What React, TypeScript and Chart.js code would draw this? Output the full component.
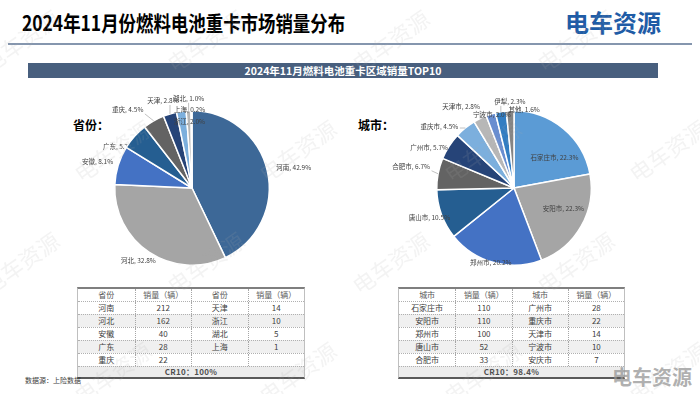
import React, { useEffect, useRef } from "react";
import { Chart, registerables } from "chart.js";

Chart.register(...registerables);

// ---------- data ----------
const provinceLabels = ["河南", "河北", "安徽", "广东", "重庆", "天津", "浙江", "湖北", "上海"];
const provinceShares = [42.9, 32.8, 8.1, 5.7, 4.5, 2.8, 2.0, 1.0, 0.2];

const cityLabels = ["石家庄市", "安阳市", "郑州市", "唐山市", "合肥市", "广州市", "重庆市", "天津市", "宁波市", "伊犁", "其他"];
const cityShares = [22.3, 22.3, 20.2, 10.5, 6.7, 5.7, 4.5, 2.8, 2.0, 2.3, 1.6];

const provinceTableNames = ["河南", "河北", "安徽", "广东", "重庆", "天津", "浙江", "湖北", "上海"];
const provinceTableSales = [212, 162, 40, 28, 22, 14, 10, 5, 1];
const provinceCR10 = "CR10：100%";

const cityTableNames = ["石家庄市", "安阳市", "郑州市", "唐山市", "合肥市", "广州市", "重庆市", "天津市", "宁波市", "安庆市"];
const cityTableSales = [110, 110, 100, 52, 33, 28, 22, 14, 10, 7];
const cityCR10 = "CR10：98.4%";

const title = "2024年11月份燃料电池重卡市场销量分布";
const bannerText = "2024年11月燃料电池重卡区域销量TOP10";
const sourceText = "数据源：上险数据";
const brand = "电车资源";

// ---------- styles ----------
const FONT = '"Noto Sans CJK SC", "Noto Sans", sans-serif';
const provinceColors = ["#3d6897", "#a5a5a5", "#4472c4", "#255e91", "#636363", "#264478", "#7cafdd", "#b7b7b7", "#698ed0"];
const cityColors = ["#5b9bd5", "#a5a5a5", "#4472c4", "#255e91", "#636363", "#264478", "#7cafdd", "#b7b7b7", "#698ed0", "#327dc2", "#848484"];

type LabelCfg = { dx: number; dy: number; align: CanvasTextAlign; line?: boolean; under?: boolean };

const provinceLabelCfg: LabelCfg[] = [
  { dx: 9, dy: -3, align: "left" },
  { dx: -11, dy: 8, align: "center" },
  { dx: -5, dy: -4, align: "right" },
  { dx: -16, dy: 10, align: "center", under: true },
  { dx: -26, dy: -11, align: "center", line: true },
  { dx: -7, dy: -13, align: "center", line: true },
  { dx: 8, dy: 10, align: "center" },
  { dx: 0, dy: -12, align: "center", line: true },
  { dx: -2, dy: -1, align: "center" },
];

const cityLabelCfg: LabelCfg[] = [
  { dx: -9, dy: 29, align: "center" },
  { dx: -18, dy: -17, align: "center" },
  { dx: -3, dy: 0, align: "center" },
  { dx: -12, dy: 3, align: "center" },
  { dx: -8, dy: -7, align: "right", line: true },
  { dx: -1, dy: 1, align: "right" },
  { dx: -7, dy: -1, align: "right", line: true },
  { dx: -19, dy: -12, align: "center", line: true },
  { dx: 1, dy: 0, align: "center" },
  { dx: 9, dy: -10, align: "center", line: true },
  { dx: 14, dy: -1, align: "center" },
];

type Box = { x: number; y: number; w: number; h: number };

function PieChart(props: {
  labels: string[];
  values: number[];
  colors: string[];
  cfg: LabelCfg[];
  box: Box;
  pad: { left: number; right: number; top: number; bottom: number };
}) {
  const { labels, values, colors, cfg, box, pad } = props;
  const ref = useRef<HTMLCanvasElement>(null);
  useEffect(() => {
    if (!ref.current) return;
    const drawLabels = (chart: any, under: boolean) => {
      const ctx: CanvasRenderingContext2D = chart.ctx;
      const meta = chart.getDatasetMeta(0);
      ctx.save();
      ctx.font = `6.5px ${FONT}`;
      ctx.textBaseline = "middle";
      meta.data.forEach((arc: any, i: number) => {
        const c = cfg[i];
        if (!c || !!c.under !== under) return;
        const p = arc.getProps(["x", "y", "startAngle", "endAngle", "outerRadius"], true);
        const mid = (p.startAngle + p.endAngle) / 2;
        const ex = p.x + Math.cos(mid) * p.outerRadius;
        const ey = p.y + Math.sin(mid) * p.outerRadius;
        const tx = ex + c.dx;
        const ty = ey + c.dy;
        const text = `${labels[i]}, ${values[i].toFixed(1)}%`;
        const w = ctx.measureText(text).width;
        let lx = tx;
        if (c.align === "left") lx = tx;
        else if (c.align === "right") lx = tx - w;
        else lx = tx - w / 2;
        if (c.line) {
          const px = Math.min(Math.max(ex, lx - 1.5), lx + w + 1.5);
          const py = Math.min(Math.max(ey, ty - 4), ty + 4);
          ctx.strokeStyle = "#a6a6a6";
          ctx.lineWidth = 0.7;
          ctx.beginPath();
          ctx.moveTo(px, py);
          ctx.lineTo(ex, ey);
          ctx.stroke();
        }
        ctx.fillStyle = "#404040";
        ctx.textAlign = c.align;
        ctx.fillText(text, tx, ty);
      });
      ctx.restore();
    };
    const chart = new Chart(ref.current, {
      type: "pie",
      data: {
        labels,
        datasets: [
          {
            data: values,
            backgroundColor: colors,
            borderColor: "#ffffff",
            borderWidth: 1.5,
          },
        ],
      },
      options: {
        responsive: false,
        animation: false,
        layout: { padding: pad },
        plugins: { legend: { display: false }, tooltip: { enabled: false } },
      },
      plugins: [
        {
          id: "sliceLabels",
          beforeDatasetsDraw: (c: any) => drawLabels(c, true),
          afterDatasetsDraw: (c: any) => drawLabels(c, false),
        },
      ],
    } as any);
    return () => chart.destroy();
  }, []);
  return (
    <canvas
      ref={ref}
      width={box.w}
      height={box.h}
      style={{ position: "absolute", left: box.x, top: box.y, width: box.w, height: box.h }}
    />
  );
}

function SalesTable(props: { x: number; y: number; w: number; head: string; names: string[]; sales: number[]; cr: string }) {
  const { x, y, w, head, names, sales, cr } = props;
  const rows = [0, 1, 2, 3, 4];
  const cell = (first: boolean): React.CSSProperties => ({
    display: "flex",
    alignItems: "center",
    justifyContent: "center",
    borderLeft: first ? "none" : "1px dotted #a6a6a6",
  });
  const grid: React.CSSProperties = { display: "grid", gridTemplateColumns: "1fr 1fr 1fr 1fr", height: 12 };
  const headers = [head, "销量（辆）", head, "销量（辆）"];
  return (
    <div
      style={{
        position: "absolute",
        left: x,
        top: y,
        width: w,
        borderTop: "2px solid #7f7f7f",
        borderBottom: "2.5px solid #595959",
        borderLeft: "1px solid #bfbfbf",
        borderRight: "1px solid #bfbfbf",
        fontFamily: FONT,
        fontSize: 8,
        lineHeight: "12px",
        color: "#404040",
        boxSizing: "border-box",
      }}
    >
      <div style={{ ...grid, color: "#595959" }}>
        {headers.map((h, i) => (
          <div key={i} style={cell(i === 0)}>
            {h}
          </div>
        ))}
      </div>
      {rows.map((r) => {
        const vals = [names[r], sales[r], names[r + 5], sales[r + 5]];
        return (
          <div
            key={r}
            style={{ ...grid, background: r % 2 === 1 ? "#f0f0f0" : "#ffffff", borderTop: "1px dotted #b0b0b0" }}
          >
            {vals.map((v, i) => (
              <div key={i} style={cell(i === 0)}>
                {v === undefined ? "" : String(v)}
              </div>
            ))}
          </div>
        );
      })}
      <div
        style={{
          height: 10,
          lineHeight: "10px",
          background: "#ececec",
          borderTop: "1px dotted #b0b0b0",
          textAlign: "center",
          fontWeight: 600,
          color: "#505050",
          letterSpacing: 0.3,
        }}
      >
        {cr}
      </div>
    </div>
  );
}

function Watermarks() {
  const spots: [number, number][] = [];
  const rowsY = [40, 150, 262, 372];
  rowsY.forEach((yy, r) => {
    for (let k = -1; k < 5; k++) {
      spots.push([k * 185 + (r % 2) * 92 + 20, yy]);
    }
  });
  return (
    <div style={{ position: "absolute", left: 0, top: 0, width: 700, height: 394, pointerEvents: "none", overflow: "hidden" }}>
      {spots.map(([x, y], i) => (
        <div
          key={i}
          style={{
            position: "absolute",
            left: x,
            top: y,
            fontFamily: FONT,
            fontSize: 22,
            color: "rgba(170,170,170,0.14)",
            transform: "translate(-50%,-50%) rotate(-35deg)",
            whiteSpace: "nowrap",
          }}
        >
          {brand}
        </div>
      ))}
    </div>
  );
}

export default function App() {
  return (
    <div
      style={{
        position: "absolute",
        left: 0,
        top: 0,
        width: 700,
        height: 394,
        background: "#ffffff",
        overflow: "hidden",
        fontFamily: FONT,
      }}
    >
      <div
        style={{
          position: "absolute",
          left: 22,
          top: 7,
          fontSize: 21,
          fontWeight: 700,
          color: "#000",
          whiteSpace: "nowrap",
          transform: "scaleX(0.83)",
          transformOrigin: "left center",
          lineHeight: "30px",
        }}
      >
        {title}
      </div>
      <div
        style={{
          position: "absolute",
          left: 565,
          top: 7,
          fontSize: 24,
          fontWeight: 700,
          color: "#1f5ca6",
          whiteSpace: "nowrap",
          lineHeight: "30px",
        }}
      >
        {brand}
      </div>
      <div style={{ position: "absolute", left: 8, top: 43, width: 684, height: 1.5, background: "#8596ae" }} />
      <div
        style={{
          position: "absolute",
          left: 28,
          top: 63,
          width: 630,
          height: 15,
          background: "#485f7e",
          color: "#fff",
          fontSize: 10.5,
          fontWeight: 700,
          textAlign: "center",
          lineHeight: "15px",
        }}
      >
        {bannerText}
      </div>
      <div style={{ position: "absolute", left: 73, top: 116, fontSize: 12, fontWeight: 700, color: "#000" }}>省份：</div>
      <div style={{ position: "absolute", left: 358, top: 116, fontSize: 12, fontWeight: 700, color: "#000" }}>城市：</div>

      <PieChart
        labels={provinceLabels}
        values={provinceShares}
        colors={provinceColors}
        cfg={provinceLabelCfg}
        box={{ x: 62, y: 90, w: 260, h: 196 }}
        pad={{ left: 52, right: 52, top: 20, bottom: 20 }}
      />
      <PieChart
        labels={cityLabels}
        values={cityShares}
        colors={cityColors}
        cfg={cityLabelCfg}
        box={{ x: 384, y: 90, w: 260, h: 196 }}
        pad={{ left: 52, right: 52, top: 20, bottom: 20 }}
      />

      <SalesTable x={77} y={287} w={228} head="省份" names={provinceTableNames} sales={provinceTableSales} cr={provinceCR10} />
      <SalesTable x={398} y={287} w={227} head="城市" names={cityTableNames} sales={cityTableSales} cr={cityCR10} />

      <div style={{ position: "absolute", left: 25, top: 375, fontSize: 7, color: "#404040" }}>{sourceText}</div>
      <div
        style={{
          position: "absolute",
          left: 612,
          top: 364,
          fontSize: 20,
          fontWeight: 700,
          color: "rgba(150,150,150,0.75)",
          whiteSpace: "nowrap",
          lineHeight: "26px",
        }}
      >
        {brand}
      </div>
      <Watermarks />
    </div>
  );
}
